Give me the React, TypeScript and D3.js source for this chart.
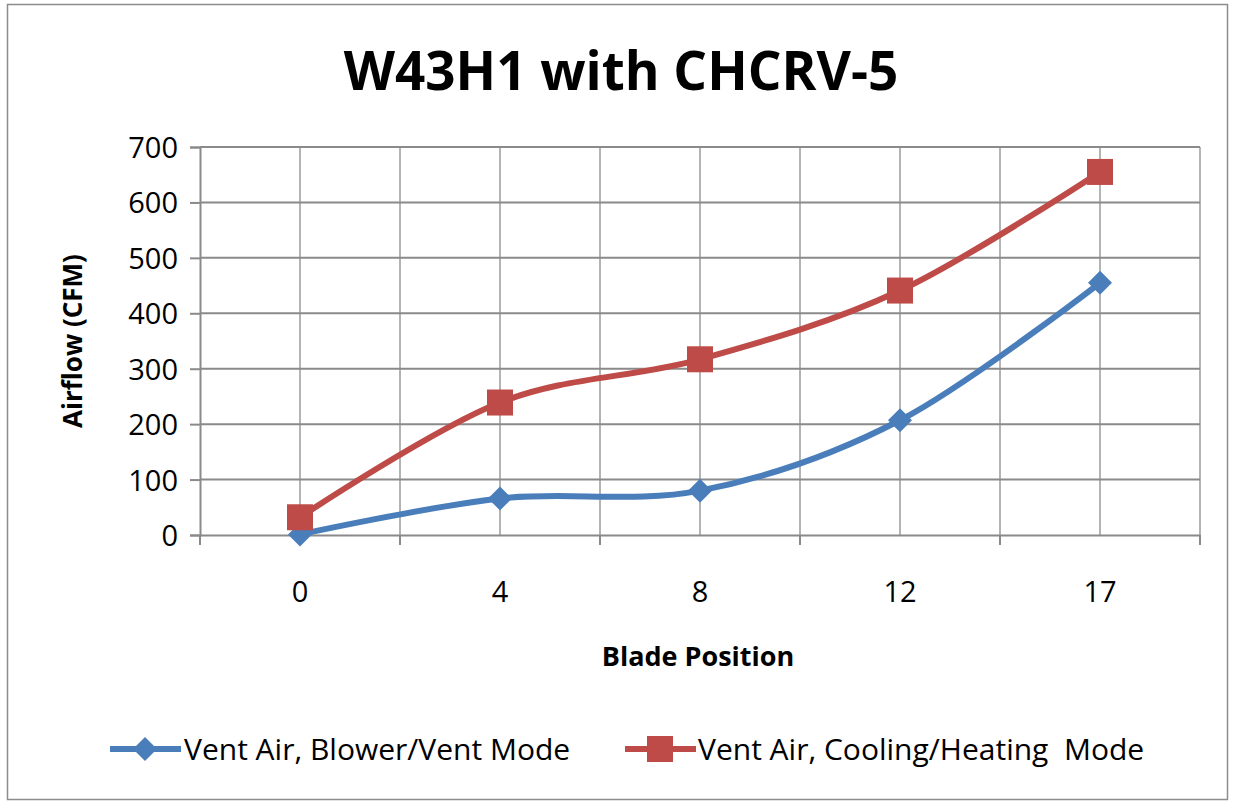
import React, { useEffect, useRef } from 'react'
import * as d3 from 'd3'

const categories = ['0', '4', '8', '12', '17']
const blowerVent = [1, 66, 80, 207, 455]
const coolingHeating = [32, 239, 317, 441, 655]
const yTicks = [0, 100, 200, 300, 400, 500, 600, 700]

const seriesNames = ['Vent Air, Blower/Vent Mode', 'Vent Air, Cooling/Heating  Mode']
const blue = '#4a7ebb'
const red = '#be4b48'
const font = "'Open Sans', sans-serif"

const W = 1235
const H = 801

const App = () => {
    const svgRef = useRef<SVGSVGElement>(null)

    useEffect(() => {
        const svg = d3.select(svgRef.current)
        svg.selectAll('*').remove()

        const left = 200, right = 1200, top = 147, bottom = 535

        // chart border
        svg.append('rect')
            .attr('x', 7.5).attr('y', 4.5).attr('width', 1220).attr('height', 795)
            .attr('fill', '#fff').attr('stroke', '#8c8c8c').attr('stroke-width', 1.5)

        svg.append('text')
            .attr('x', 621).attr('y', 90)
            .attr('text-anchor', 'middle')
            .attr('font-family', font).attr('font-weight', 700).attr('font-size', 53)
            .text('W43H1 with CHCRV-5')

        const x = d3.scaleBand<string>().domain(categories).range([left, right])
        const y = d3.scaleLinear().domain([0, 700]).range([bottom, top])
        const cx = (c: string) => (x(c) as number) + x.bandwidth() / 2

        const grid = svg.append('g')
        // vertical gridlines at category centres and boundaries
        const vlines: number[] = []
        categories.forEach(c => { vlines.push(x(c) as number); vlines.push(cx(c)) })
        vlines.push(right)
        grid.selectAll('line.v').data(vlines.slice(1)).join('line')
            .attr('x1', d => d).attr('x2', d => d)
            .attr('y1', top).attr('y2', bottom)
            .attr('stroke', '#b4b4b4').attr('stroke-width', 2)
        grid.selectAll('line.h').data(yTicks.slice(1)).join('line')
            .attr('x1', left).attr('x2', right)
            .attr('y1', d => y(d)).attr('y2', d => y(d))
            .attr('stroke', '#8a8a8a').attr('stroke-width', 2)

        // y axis
        const yAxis = svg.append('g').attr('transform', `translate(${left},0)`)
            .call(d3.axisLeft(y).tickValues(yTicks).tickSize(10).tickPadding(12))
        yAxis.select('.domain').attr('stroke', '#8a8a8a').attr('stroke-width', 2)
        yAxis.selectAll('.tick line').attr('stroke', '#8a8a8a').attr('stroke-width', 2)
        yAxis.selectAll('.tick text').attr('font-family', font).attr('font-size', 29).attr('fill', '#000').attr('dy', '0.36em')

        // x axis
        const xAxis = svg.append('g').attr('transform', `translate(0,${bottom})`)
            .call(d3.axisBottom(x).tickSize(0).tickPadding(46))
        xAxis.select('.domain').attr('stroke', '#8a8a8a').attr('stroke-width', 2)
        xAxis.selectAll('.tick text').attr('font-family', font).attr('font-size', 29).attr('fill', '#000')
        svg.append('g').selectAll('line').data([...categories.map(c => x(c) as number), right]).join('line')
            .attr('x1', d => d).attr('x2', d => d)
            .attr('y1', bottom).attr('y2', bottom + 10)
            .attr('stroke', '#8a8a8a').attr('stroke-width', 2)

        svg.append('text')
            .attr('x', 698).attr('y', 666)
            .attr('text-anchor', 'middle')
            .attr('font-family', font).attr('font-weight', 700).attr('font-size', 27)
            .text('Blade Position')

        svg.append('text')
            .attr('transform', 'translate(82,341) rotate(-90)')
            .attr('text-anchor', 'middle')
            .attr('font-family', font).attr('font-weight', 700).attr('font-size', 26)
            .text('Airflow (CFM)')

        const line = d3.line<number>()
            .x((_, i) => cx(categories[i]))
            .y(d => y(d))
            .curve(d3.curveCardinal.tension(0))

        const diamond = (g: any, px: number, py: number, r: number) =>
            g.append('path').attr('d', `M${px},${py - r}L${px + r},${py}L${px},${py + r}L${px - r},${py}Z`).attr('fill', blue)
        const square = (g: any, px: number, py: number, s: number) =>
            g.append('rect').attr('x', px - s / 2).attr('y', py - s / 2).attr('width', s).attr('height', s).attr('fill', red)

        const plot = svg.append('g')
        plot.append('path').datum(blowerVent).attr('d', line)
            .attr('fill', 'none').attr('stroke', blue).attr('stroke-width', 6)
        plot.append('path').datum(coolingHeating).attr('d', line)
            .attr('fill', 'none').attr('stroke', red).attr('stroke-width', 6)
        blowerVent.forEach((v, i) => diamond(plot, cx(categories[i]), y(v), 12))
        coolingHeating.forEach((v, i) => square(plot, cx(categories[i]), y(v), 26))

        // legend
        const legend = svg.append('g')
        const ly = 749
        legend.append('line').attr('x1', 110).attr('x2', 181).attr('y1', ly).attr('y2', ly)
            .attr('stroke', blue).attr('stroke-width', 6)
        diamond(legend, 145, ly, 12)
        legend.append('text').attr('x', 184).attr('y', ly + 11)
            .attr('font-family', font).attr('font-size', 30).text(seriesNames[0])
        legend.append('line').attr('x1', 625).attr('x2', 696).attr('y1', ly).attr('y2', ly)
            .attr('stroke', red).attr('stroke-width', 6)
        square(legend, 660, ly, 26)
        legend.append('text').attr('x', 698).attr('y', ly + 11)
            .attr('font-family', font).attr('font-size', 30).style('white-space', 'pre').text(seriesNames[1])
    }, [])

    return (
        <svg ref={svgRef} width={W} height={H} style={{ position: 'absolute', left: 0, top: 0, background: '#fff' }} />
    )
}

export default App
